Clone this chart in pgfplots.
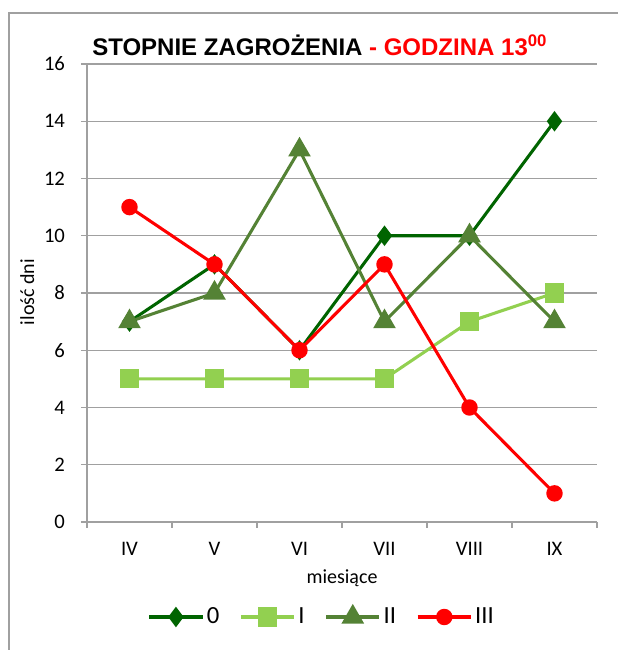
\documentclass[border=0pt]{standalone}
\usepackage{pgfplots}
\pgfplotsset{compat=1.18}
\usepackage{fontspec}
\setmainfont{Carlito}
\newfontfamily\arialfont{Liberation Sans}
\definecolor{cZero}{RGB}{0,100,0}
\definecolor{cOne}{RGB}{146,208,80}
\definecolor{cTwo}{RGB}{84,130,53}
\definecolor{cThree}{RGB}{255,0,0}
\definecolor{gridg}{RGB}{160,160,160}
\begin{document}
\begin{tikzpicture}
\useasboundingbox (0,0) rectangle (463.5pt,487.5pt);
\draw[gridg, line width=1pt] (6.75pt,0) -- (6.75pt,477.75pt) -- (463.5pt,477.75pt);
\node[anchor=base west, inner sep=0pt, font=\arialfont\fontsize{18}{20}\selectfont\bfseries] at (69pt,446pt)
  {STOPNIE ZAGROŻENIA \textcolor{cThree}{- GODZINA 13\textsuperscript{00}}};
\node[rotate=90, font=\fontsize{15}{17}\selectfont] at (20.5pt,268.5pt) {ilość dni};
\node[font=\fontsize{15}{17}\selectfont] at (256.5pt,54pt) {miesiące};
\begin{axis}[
  at={(65.25pt,96pt)}, anchor=south west,
  scale only axis, width=382.5pt, height=343.5pt,
  xmin=-0.5, xmax=5.5, ymin=0, ymax=16,
  xtick={0,...,5}, xticklabels={IV,V,VI,VII,VIII,IX},
  minor xtick={-0.5,0.5,...,5.5},
  ytick={0,2,...,16},
  axis x line*=bottom, axis y line*=left,
  axis line style={-, gridg, line width=1pt},
  tick align=outside,
  major tick length=4.5pt, minor tick length=4.5pt,
  major x tick style={draw=none},
  every tick/.style={gridg, line width=1pt},
  ymajorgrids,
  major grid style={gridg, line width=1pt},
  tick label style={font=\fontsize{15.5}{17}\selectfont},
  yticklabel style={xshift=-8.5pt},
  xticklabel style={yshift=-7pt},
  /pgf/number format/assume math mode=true,
  legend columns=4,
  legend style={at={(0.461,-0.2074)}, anchor=center, draw=none, fill=none,
    font=\fontsize{18.5}{20}\selectfont,
    /tikz/every even column/.append style={column sep=13pt}},
  legend image code/.code={\draw[mark repeat=2,mark phase=2] plot coordinates {(0pt,0pt) (20pt,0pt) (40pt,0pt)};},
  every axis plot/.append style={line width=2.3pt},
]
\addplot[color=cZero, mark=diamond*, mark size=5.8pt, mark options={solid}] coordinates {(0,7) (1,9) (2,6) (3,10) (4,10) (5,14)};
\addlegendentry{0}
\addplot[color=cOne, mark=square*, mark size=6pt] coordinates {(0,5) (1,5) (2,5) (3,5) (4,7) (5,8)};
\addlegendentry{I}
\addplot[color=cTwo, mark=triangle*, mark size=7.5pt] coordinates {(0,7) (1,8) (2,13) (3,7) (4,10) (5,7)};
\addlegendentry{II}
\addplot[color=cThree, mark=*, mark size=5pt] coordinates {(0,11) (1,9) (2,6) (3,9) (4,4) (5,1)};
\addlegendentry{III}
\end{axis}
\end{tikzpicture}
\end{document}
